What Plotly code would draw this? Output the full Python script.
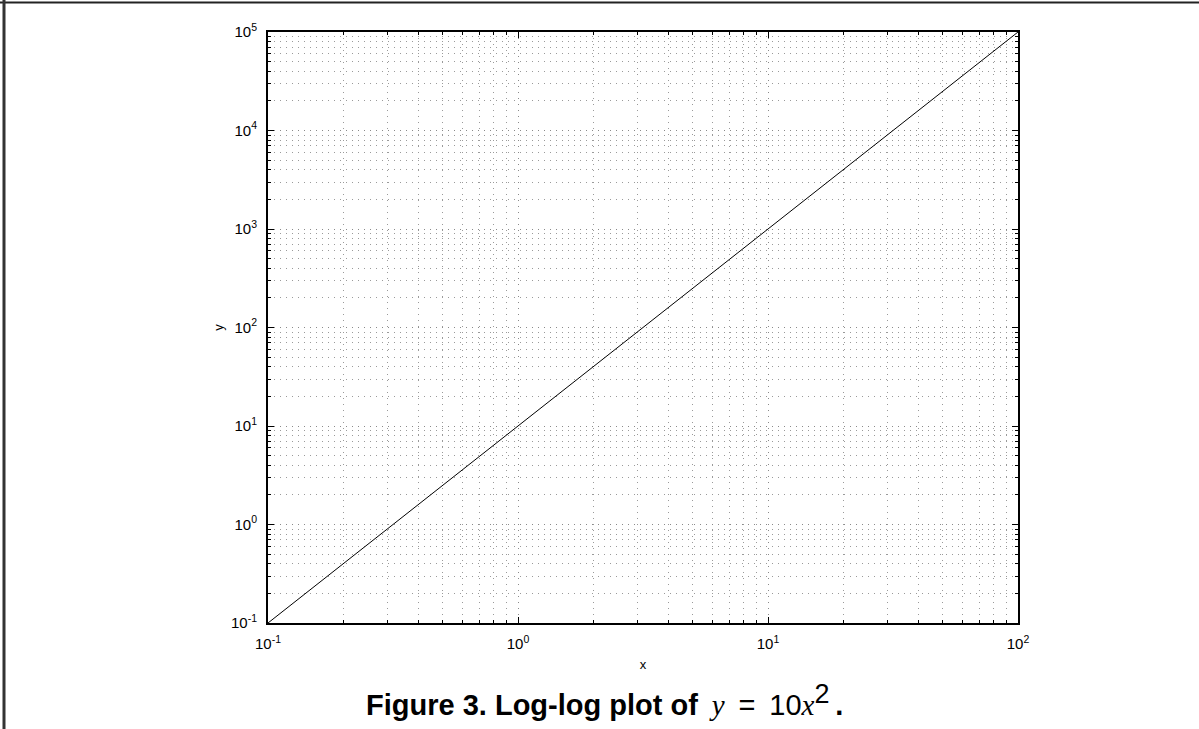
import plotly.graph_objects as go

# y = 10 x^2 sampled at the decades of x
x_vals = [0.1, 1, 10, 100]
y_vals = [0.1, 10, 1000, 100000]

x_ticks = [0.1, 1, 10, 100]
x_tick_text = ["10<sup>-1</sup>", "10<sup>0</sup>", "10<sup>1</sup>", "10<sup>2</sup>"]
y_ticks = [0.1, 1, 10, 100, 1000, 10000, 100000]
y_tick_text = ["10<sup>-1</sup>", "10<sup>0</sup>", "10<sup>1</sup>", "10<sup>2</sup>",
               "10<sup>3</sup>", "10<sup>4</sup>", "10<sup>5</sup>"]

W, H = 1199, 729
L, R, T, B = 268, 1018, 32, 623
PW, PH = R - L, B - T

SANS = "Liberation Sans, Arial, sans-serif"
SERIF = "'Liberation Serif', 'Times New Roman', serif"

fig = go.Figure()
fig.add_trace(go.Scatter(x=x_vals, y=y_vals, mode="lines",
                         line=dict(color="black", width=1), showlegend=False))

axis_common = dict(
    type="log", showline=True, linecolor="black", linewidth=2, mirror="ticks",
    ticks="inside", ticklen=6, tickcolor="black", tickwidth=1,
    tickfont=dict(family=SANS, size=15, color="black"),
    ticklabelstandoff=6,
    zeroline=False,
    showgrid=True, gridcolor="#8a8a8a", gridwidth=1, griddash="1px,5px",
    minor=dict(dtick="D1", ticks="inside", ticklen=3, tickcolor="black",
               showgrid=True, gridcolor="#9a9a9a", griddash="1px,5px", gridwidth=1),
)

fig.update_xaxes(range=[-1, 2], tickvals=x_ticks, ticktext=x_tick_text,
                 title=dict(text="x", font=dict(family=SANS, size=13, color="black"),
                            standoff=9),
                 **axis_common)
fig.update_yaxes(range=[-1, 5], tickvals=y_ticks, ticktext=y_tick_text,
                 title=dict(text="y", font=dict(family=SANS, size=13, color="black"),
                            standoff=4),
                 **axis_common)

# Caption below the axes
fig.add_annotation(
    x=(604 - L) / PW, y=(B - 700) / PH, xref="paper", yref="paper",
    xanchor="center", yanchor="middle", showarrow=False,
    text=("<b>Figure 3. Log-log plot of</b>\u00a0\u2009"
          f"<span style=\"font-family:{SERIF}\"><i>y</i></span>"
          "\u00a0\u2009=\u00a0\u200910"
          f"<span style=\"font-family:{SERIF}\"><i>x</i></span>"
          "<sup><span style=\"font-size:27px\">2</span></sup>\u2009<b>.</b>"),
    font=dict(family=SANS, size=29, color="black"),
)

# Frame lines along the top and left page edges
fig.add_shape(type="line", xref="paper", yref="paper",
              x0=-L / PW, x1=(W - L) / PW,
              y0=1 + (T - 2.5) / PH, y1=1 + (T - 2.5) / PH,
              line=dict(color="#222", width=2))
fig.add_shape(type="line", xref="paper", yref="paper",
              x0=-(L - 4) / PW, x1=-(L - 4) / PW,
              y0=-(H - B) / PH, y1=1 + T / PH,
              line=dict(color="#333", width=3))

fig.update_layout(
    width=W, height=H,
    margin=dict(l=L, r=W - R, t=T, b=H - B),
    paper_bgcolor="white", plot_bgcolor="white",
)

fig.write_html("out.html")
